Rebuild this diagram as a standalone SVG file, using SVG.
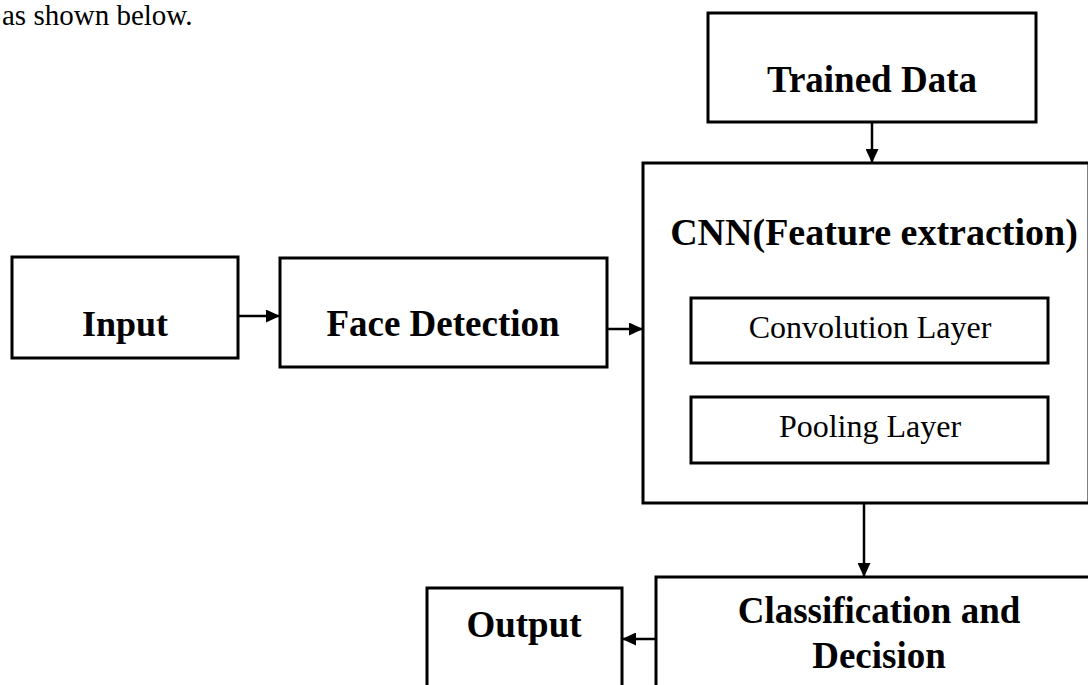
<svg xmlns="http://www.w3.org/2000/svg" width="1088" height="685" viewBox="0 0 1088 685">
  <defs>
    <marker id="arrow" markerUnits="userSpaceOnUse" markerWidth="15" markerHeight="13" refX="14" refY="6.5" orient="auto">
      <path d="M0,0 L14,6.5 L0,13 z" fill="#000"/>
    </marker>
    <style>
      .box { fill: #fff; stroke: #000; stroke-width: 3; }
      .conn { fill: none; stroke: #000; stroke-width: 2.5; marker-end: url(#arrow); }
      .title { font-family: "Liberation Serif", "Times New Roman", serif; font-weight: bold; font-size: 37px; fill: #000; text-anchor: middle; }
      .layer { font-family: "Liberation Serif", "Times New Roman", serif; font-size: 32px; fill: #000; text-anchor: middle; }
      .body { font-family: "Liberation Serif", "Times New Roman", serif; font-size: 29px; fill: #000; }
    </style>
  </defs>

  <rect width="1088" height="685" fill="#fff"/>

  <!-- running text above the figure -->
  <text class="body" x="2" y="25">as shown below.</text>

  <g id="trained-data">
    <rect class="box" x="708" y="13" width="328" height="109"/>
    <text class="title" x="872" y="92">Trained Data</text>
  </g>

  <g id="input">
    <rect class="box" x="12" y="257" width="226" height="101"/>
    <text class="title" x="125" y="336" style="font-size:36px">Input</text>
  </g>

  <g id="face-detection">
    <rect class="box" x="280" y="258" width="327" height="109"/>
    <text class="title" x="443" y="336">Face Detection</text>
  </g>

  <g id="cnn">
    <rect class="box" x="643" y="163" width="446" height="340"/>
    <text class="title" x="874" y="245" style="font-size:38px">CNN(Feature extraction)</text>
    <g id="convolution-layer">
      <rect class="box" x="691" y="298" width="357" height="65"/>
      <text class="layer" x="870" y="338">Convolution Layer</text>
    </g>
    <g id="pooling-layer">
      <rect class="box" x="691" y="397" width="357" height="66"/>
      <text class="layer" x="870" y="437">Pooling Layer</text>
    </g>
  </g>

  <g id="classification">
    <rect class="box" x="656" y="577" width="450" height="120"/>
    <text class="title" x="879" y="623">Classification and</text>
    <text class="title" x="879" y="668">Decision</text>
  </g>

  <g id="output">
    <rect class="box" x="427" y="588" width="195" height="110"/>
    <text class="title" x="524" y="637">Output</text>
  </g>

  <g id="connectors">
    <line class="conn" x1="238" y1="316" x2="280" y2="316"/>
    <line class="conn" x1="607" y1="329" x2="643" y2="329"/>
    <line class="conn" x1="872" y1="122" x2="872" y2="163"/>
    <line class="conn" x1="864" y1="503" x2="864" y2="577"/>
    <line class="conn" x1="656" y1="639" x2="622" y2="639"/>
  </g>
</svg>
